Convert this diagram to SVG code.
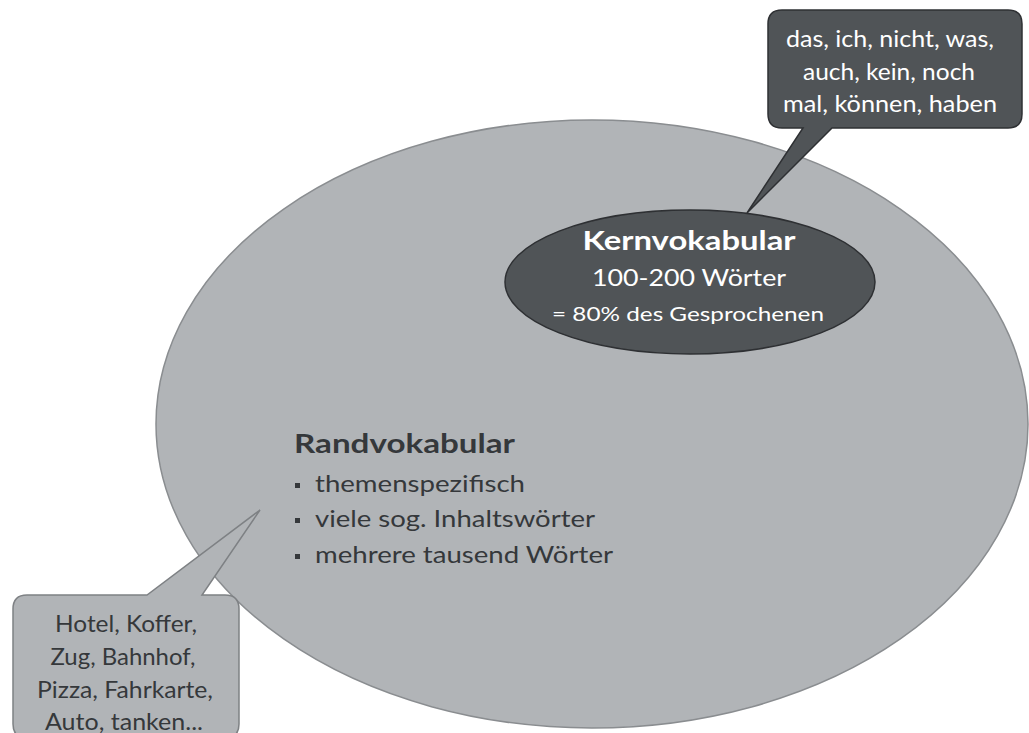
<svg xmlns="http://www.w3.org/2000/svg" width="1029" height="733" viewBox="0 0 1029 733">
  <style>
    text { font-family: Lato, "Open Sans", "Liberation Sans", sans-serif; }
    .light { fill: #ffffff; text-anchor: middle; }
    .dark { fill: #35383b; }
    .darkc { fill: #35383b; text-anchor: middle; }
    .bullet { fill: #35383b; }
  </style>
  <rect width="1029" height="733" fill="#ffffff"/>
  <g id="rand">
    <ellipse cx="592" cy="424" rx="436" ry="304" fill="#b1b4b7" stroke="#8a8d90" stroke-width="1.5"/>
    <text class="dark" x="294" y="453" font-size="26" font-weight="bold" textLength="221" lengthAdjust="spacingAndGlyphs">Randvokabular</text>
    <rect class="bullet" x="295" y="483" width="5" height="5"/>
    <text class="dark" x="315" y="492" font-size="23" textLength="210" lengthAdjust="spacingAndGlyphs">themenspezifisch</text>
    <rect class="bullet" x="295" y="518" width="5" height="5"/>
    <text class="dark" x="315" y="527" font-size="23" textLength="280" lengthAdjust="spacingAndGlyphs">viele sog. Inhaltswörter</text>
    <rect class="bullet" x="295" y="554" width="5" height="5"/>
    <text class="dark" x="315" y="563" font-size="23" textLength="298" lengthAdjust="spacingAndGlyphs">mehrere tausend Wörter</text>
  </g>
  <g id="callout-top">
    <path d="M782,10 H1008 Q1022,10 1022,24 V114 Q1022,128 1008,128 H832 L747,213 L803,128 H782 Q768,128 768,114 V24 Q768,10 782,10 Z" fill="#505457" stroke="#2e3033" stroke-width="1.5"/>
    <text class="light" x="890" y="47" font-size="23" textLength="208" lengthAdjust="spacingAndGlyphs">das, ich, nicht, was,</text>
    <text class="light" x="889" y="80" font-size="23" textLength="172" lengthAdjust="spacingAndGlyphs">auch, kein, noch</text>
    <text class="light" x="890" y="112" font-size="23" textLength="214" lengthAdjust="spacingAndGlyphs">mal, können, haben</text>
  </g>
  <g id="kern">
    <ellipse cx="690" cy="282" rx="185" ry="72" fill="#505457" stroke="#2e3033" stroke-width="1.5"/>
    <text class="light" x="689" y="250" font-size="27" font-weight="bold" textLength="213" lengthAdjust="spacingAndGlyphs">Kernvokabular</text>
    <text class="light" x="689" y="286" font-size="23" textLength="194" lengthAdjust="spacingAndGlyphs">100-200 Wörter</text>
    <text class="light" x="688" y="321" font-size="20" textLength="272" lengthAdjust="spacingAndGlyphs">= 80% des Gesprochenen</text>
  </g>
  <g id="callout-bottom">
    <path d="M27,595 H147 L260,510 L202,595 H225 Q239,595 239,609 V724 Q239,738 225,738 H27 Q13,738 13,724 V609 Q13,595 27,595 Z" fill="#b1b4b7" stroke="#7e8184" stroke-width="1.5"/>
    <text class="darkc" x="126" y="632" font-size="23" textLength="142" lengthAdjust="spacingAndGlyphs">Hotel, Koffer,</text>
    <text class="darkc" x="123" y="665" font-size="23" textLength="145" lengthAdjust="spacingAndGlyphs">Zug, Bahnhof,</text>
    <text class="darkc" x="125" y="698" font-size="23" textLength="176" lengthAdjust="spacingAndGlyphs">Pizza, Fahrkarte,</text>
    <text class="darkc" x="124" y="730" font-size="23" textLength="158" lengthAdjust="spacingAndGlyphs">Auto, tanken...</text>
  </g>
  <g id="connectors"></g>
</svg>
